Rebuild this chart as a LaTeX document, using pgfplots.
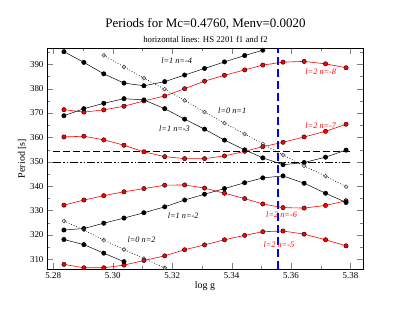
\documentclass[border=0pt]{standalone}
\usepackage{fontspec}
\setmainfont{Liberation Serif}
\usepackage{pgfplots}
\pgfplotsset{compat=1.18}
\begin{document}
\begin{tikzpicture}
\path[use as bounding box] (-47bp,-48bp) rectangle (362bp,269bp);
\begin{axis}[at={(0,0)},anchor=south west, scale only axis, width=316bp, height=221bp,
  xmin=5.2779, xmax=5.3842, ymin=306.0, ymax=396.7,
  xtick={5.28,5.30,5.32,5.34,5.36,5.38},
  minor xtick={5.29,5.31,5.33,5.35,5.37},
  ytick={310,320,330,340,350,360,370,380,390},
  minor ytick={305,315,325,335,345,355,365,375,385,395},
  tick align=inside, major tick length=6bp, minor tick length=3bp,
  scaled x ticks=false,
  axis line style={line width=0.6pt},
  xticklabel style={/pgf/number format/.cd, fixed, fixed zerofill, precision=2},
  /pgf/number format/assume math mode=true,
  tick label style={font=\fontsize{9}{10}\selectfont},
  xlabel={log g}, ylabel={Period [s]},
  label style={font=\fontsize{11}{12}\selectfont},
  every axis x label/.style={at={(axis description cs:0.5,-0.077)},anchor=center},
  every axis y label/.style={at={(axis description cs:-0.079,0.5)},rotate=90,anchor=center},
  blk/.style={black, line width=0.5pt, mark=*, mark size=2.2pt, mark options={solid, fill=black, draw=black}},
  rd/.style={red, line width=0.6pt, mark=*, mark size=2.2pt, mark options={solid, fill=red, draw=black, line width=0.4pt}},
  opn/.style={black, dotted, line width=0.7pt, mark=o, mark size=1.9pt, mark options={solid, draw=black!70, fill=white, line width=0.6pt}},
]
% horizontal lines
\addplot[black, line width=1.2pt, dash pattern=on 7bp off 3bp] coordinates {(5.28,354.06) (5.38,354.06)};
\addplot[black, line width=1.2pt, dash pattern=on 8bp off 2bp on 1.5bp off 2bp on 1.5bp off 2bp] coordinates {(5.28,349.55) (5.38,349.55)};
% red l=2 modes
\addplot[rd] coordinates {(5.2836,371.4) (5.2903,370.4) (5.2970,371.3) (5.3038,372.8) (5.3105,375.0) (5.3175,377.0) (5.3242,380.0) (5.3309,383.1) (5.3376,385.5) (5.3444,387.7) (5.3505,389.7) (5.3573,390.9) (5.3644,391.2) (5.3716,390.2) (5.3785,388.6)};
\addplot[rd] coordinates {(5.2836,360.2) (5.2903,360.5) (5.2970,359.0) (5.3038,356.8) (5.3105,354.1) (5.3175,352.1) (5.3242,351.3) (5.3309,351.3) (5.3376,352.4) (5.3444,354.3) (5.3505,356.2) (5.3573,358.0) (5.3644,360.2) (5.3716,362.5) (5.3785,365.4)};
\addplot[rd] coordinates {(5.2836,332.2) (5.2903,334.3) (5.2970,336.1) (5.3038,337.7) (5.3105,339.0) (5.3175,340.4) (5.3242,340.5) (5.3309,339.2) (5.3376,337.1) (5.3444,334.9) (5.3505,332.7) (5.3573,331.2) (5.3644,331.0) (5.3716,332.1) (5.3785,334.0)};
\addplot[rd] coordinates {(5.2836,307.9) (5.2903,306.5) (5.2970,306.5) (5.3038,307.6) (5.3105,309.5) (5.3175,311.4) (5.3242,313.9) (5.3309,315.9) (5.3376,318.0) (5.3444,319.8) (5.3505,321.3) (5.3573,321.6) (5.3644,320.3) (5.3716,318.0) (5.3785,315.5)};
% black l=1 modes
\addplot[blk] coordinates {(5.2836,395.2) (5.2903,390.8) (5.2970,386.1) (5.3038,382.3) (5.3105,381.2) (5.3175,382.9) (5.3242,385.6) (5.3309,388.3) (5.3376,391.0) (5.3444,393.6) (5.3505,395.8)};
\addplot[blk] coordinates {(5.2836,368.9) (5.2903,371.8) (5.2970,374.0) (5.3038,375.9) (5.3105,375.4) (5.3175,371.8) (5.3242,367.5) (5.3309,363.4) (5.3376,358.9) (5.3444,354.9) (5.3505,351.6) (5.3573,348.8) (5.3644,349.7) (5.3716,351.9) (5.3785,354.8)};
\addplot[blk] coordinates {(5.2836,322.0) (5.2903,322.6) (5.2970,324.8) (5.3038,326.9) (5.3105,329.1) (5.3175,331.5) (5.3242,334.3) (5.3309,336.7) (5.3376,339.0) (5.3444,341.4) (5.3505,343.4) (5.3573,344.2) (5.3644,341.2) (5.3716,337.1) (5.3785,333.3)};
\addplot[blk] coordinates {(5.2836,318.1) (5.2903,316.0) (5.2970,312.5) (5.3038,309.0)};
% l=0 modes
\addplot[opn] coordinates {(5.2970,393.7) (5.3038,388.9) (5.3105,384.3) (5.3175,379.8) (5.3242,375.2) (5.3309,370.4) (5.3376,365.9) (5.3444,361.4) (5.3505,357.3) (5.3573,352.8) (5.3644,348.3) (5.3716,344.1) (5.3785,339.8)};
\addplot[opn] coordinates {(5.2836,325.7) (5.2903,322.0) (5.2970,317.9) (5.3038,314.0) (5.3105,310.3) (5.3175,306.5)};
% vertical blue line
\addplot[blue, line width=1.8pt, dash pattern=on 8bp off 4bp, mark=none] coordinates {(5.3555,306.0) (5.3555,396.7)};
% labels
\begin{scope}[every node/.style={font=\fontsize{8.3}{10}\selectfont\itshape}]
\node at (axis cs:5.3215,391.4) {l=1 n=-4};
\node at (axis cs:5.3402,370.9) {l=0 n=1};
\node at (axis cs:5.3208,363.6) {l=1 n=-3};
\node at (axis cs:5.3237,328.1) {l=1 n=-2};
\node at (axis cs:5.3097,317.9) {l=0 n=2};
\node[text=red] at (axis cs:5.3700,386.8) {l=2 n=-8};
\node[text=red] at (axis cs:5.3700,364.7) {l=2 n=-7};
\node[text=red] at (axis cs:5.3568,328.2) {l=2 n=-6};
\node[text=red] at (axis cs:5.3559,315.9) {l=2 n=-5};
\end{scope}
\end{axis}
\node[font=\fontsize{13}{15}\selectfont] at (158.5bp,245.3bp) {Periods for Mc=0.4760, Menv=0.0020};
\node[font=\fontsize{8.8}{10}\selectfont] at (158.5bp,229.7bp) {horizontal lines: HS 2201 f1 and f2};
\end{tikzpicture}
\end{document}
